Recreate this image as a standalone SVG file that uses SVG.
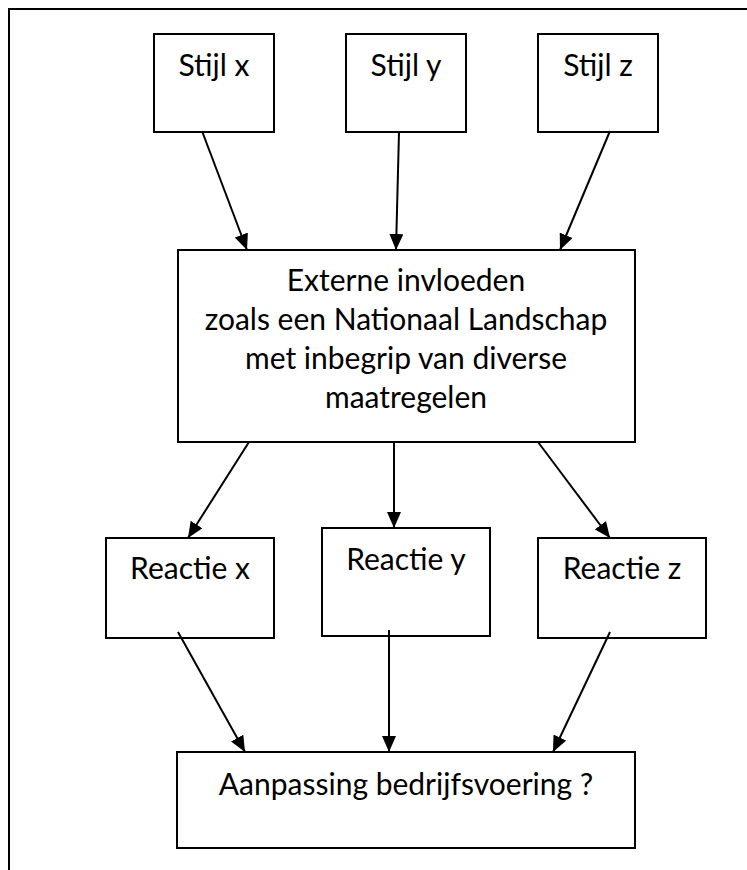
<svg xmlns="http://www.w3.org/2000/svg" width="747" height="870" viewBox="0 0 747 870">
<defs>
<marker id="ah" viewBox="0 0 16 14" refX="16" refY="7" markerWidth="16" markerHeight="14" markerUnits="userSpaceOnUse" orient="auto">
<path d="M0,0 L16,7 L0,14 Z" fill="#000"/>
</marker>
</defs>
<style>
.box{fill:#fff;stroke:#000;stroke-width:2}
.t{font-family:Lato,"Open Sans","Liberation Sans",sans-serif;font-size:30px;fill:#000;text-anchor:middle}
.c{stroke:#000;stroke-width:2;fill:none;marker-end:url(#ah)}
.frame{stroke:#000;stroke-width:2;fill:none}
</style>
<rect width="747" height="870" fill="#fff"/>
<path class="frame" d="M9,870 V9 H747"/>
<g id="stijl-x"><rect class="box" x="154" y="34" width="120" height="98"/><text class="t" x="214" y="76">Stijl x</text></g>
<g id="stijl-y"><rect class="box" x="346" y="34" width="120" height="98"/><text class="t" x="406" y="76">Stijl y</text></g>
<g id="stijl-z"><rect class="box" x="538" y="34" width="120" height="98"/><text class="t" x="598" y="76">Stijl z</text></g>
<g id="externe"><rect class="box" x="178" y="250" width="457" height="192"/>
<text class="t" x="406" y="291">Externe invloeden</text>
<text class="t" x="406" y="330">zoals een Nationaal Landschap</text>
<text class="t" x="406" y="369">met inbegrip van diverse</text>
<text class="t" x="406" y="408">maatregelen</text></g>
<g id="reactie-x"><rect class="box" x="106" y="538" width="168" height="100"/><text class="t" x="190" y="579">Reactie x</text></g>
<g id="reactie-y"><rect class="box" x="322" y="528" width="168" height="108"/><text class="t" x="406" y="570">Reactie y</text></g>
<g id="reactie-z"><rect class="box" x="538" y="538" width="168" height="100"/><text class="t" x="622" y="579">Reactie z</text></g>
<g id="aanpassing"><rect class="box" x="177" y="752" width="458" height="96"/><text class="t" x="406" y="795">Aanpassing bedrijfsvoering ?</text></g>
<g id="connectors">
<line class="c" x1="202" y1="131" x2="247" y2="250"/>
<line class="c" x1="399" y1="132" x2="396" y2="250"/>
<line class="c" x1="610" y1="131" x2="560" y2="250"/>
<line class="c" x1="249" y1="442" x2="188" y2="538"/>
<line class="c" x1="394" y1="442" x2="394" y2="528"/>
<line class="c" x1="538" y1="442" x2="610" y2="538"/>
<line class="c" x1="178" y1="632" x2="245" y2="752"/>
<line class="c" x1="389" y1="630" x2="389" y2="752"/>
<line class="c" x1="610" y1="632" x2="553" y2="752"/>
</g>
</svg>
